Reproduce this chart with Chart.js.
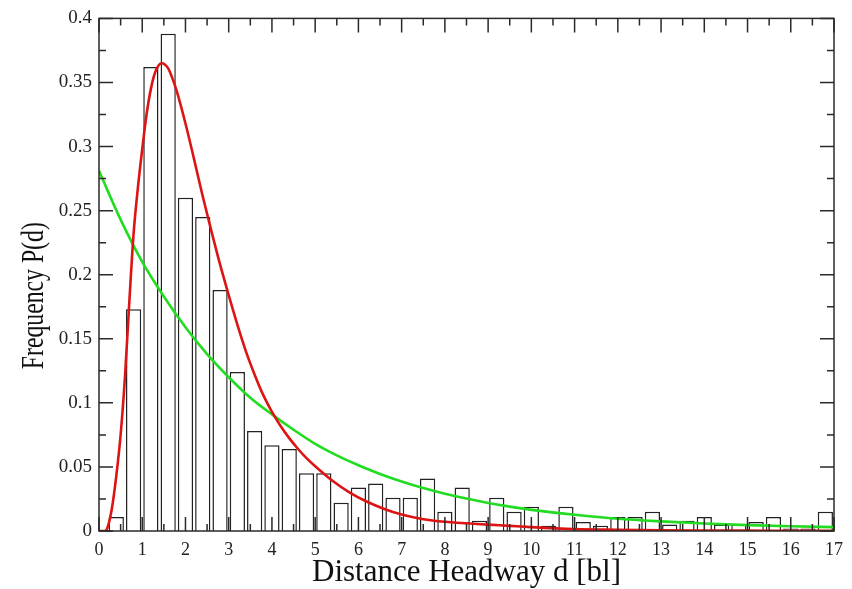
<!DOCTYPE html>
<html><head><meta charset="utf-8">
<script src="https://cdn.jsdelivr.net/npm/chart.js@4/dist/chart.umd.min.js"></script>
<style>html,body{margin:0;padding:0;background:#fff;}canvas{display:block;}</style>
</head><body>
<canvas id="c" width="852" height="589"></canvas>
<script>
// Histogram bins (centre of each bin, distance headway in body lengths)
const binCenters = [0.4, 0.8, 1.2, 1.6, 2.0, 2.4, 2.8, 3.2, 3.6, 4.0, 4.4, 4.8, 5.2, 5.6,
  6.0, 6.4, 6.8, 7.2, 7.6, 8.0, 8.4, 8.8, 9.2, 9.6, 10.0, 10.4, 10.8, 11.2, 11.6, 12.0,
  12.4, 12.8, 13.2, 13.6, 14.0, 14.4, 14.8, 15.2, 15.6, 16.0, 16.4, 16.8];
const binFreq = [0.011, 0.173, 0.362, 0.388, 0.260, 0.245, 0.188, 0.124, 0.078, 0.067,
  0.064, 0.045, 0.045, 0.022, 0.034, 0.037, 0.026, 0.026, 0.041, 0.015, 0.034, 0.008,
  0.026, 0.015, 0.019, 0.004, 0.019, 0.007, 0.004, 0.011, 0.011, 0.015, 0.005, 0.008,
  0.011, 0.005, 0.005, 0.007, 0.011, 0.002, 0.002, 0.015];

// Red fitted curve
const redX = [0, 0.15, 0.2, 0.3, 0.4, 0.5, 0.6, 0.7, 0.8, 0.9, 1.0, 1.1, 1.2, 1.3, 1.45,
  1.6, 1.7, 1.8, 2.0, 2.2, 2.4, 2.6, 2.8, 3.0, 3.2, 3.4, 3.6, 3.8, 4.0, 4.2, 4.4, 4.6, 4.8,
  5.0, 5.4, 5.8, 6.2, 6.6, 7.0, 7.5, 8.0, 8.5, 9.0, 9.5, 10, 11, 12, 13, 14, 15, 16, 17];
const redY = [0, 0, 0.003, 0.018, 0.043, 0.075, 0.12, 0.178, 0.232, 0.268, 0.298, 0.325,
  0.345, 0.358, 0.365, 0.361, 0.353, 0.343, 0.318, 0.290, 0.261, 0.234, 0.208, 0.184,
  0.161, 0.140, 0.122, 0.106, 0.093, 0.082, 0.0725, 0.0642, 0.0568, 0.0505, 0.0392, 0.0300,
  0.0228, 0.0172, 0.0128, 0.0092, 0.0072, 0.006, 0.005, 0.004, 0.003, 0.0015, 0.001, 0.0006,
  0.0004, 0.0003, 0.0002, 0.0001];

// Green fitted curve
const greenX = [0, 0.5, 1.0, 1.5, 2.0, 2.5, 3.0, 3.5, 4.0, 4.5, 5.0, 5.5, 6.0, 6.5, 7.0,
  7.5, 8.0, 8.5, 9.0, 9.5, 10, 11, 12, 13, 14, 15, 16, 17];
const greenY = [0.281, 0.243, 0.21, 0.183, 0.159, 0.138, 0.12, 0.104, 0.091, 0.079, 0.068,
  0.059, 0.0513, 0.0445, 0.0386, 0.0335, 0.0291, 0.0253, 0.0219, 0.019, 0.0165, 0.0127,
  0.0096, 0.0075, 0.0058, 0.0046, 0.0037, 0.003];

const xTickLabels = ['0','1','2','3','4','5','6','7','8','9','10','11','12','13','14','15','16','17'];
const yTickLabels = ['0','0.05','0.1','0.15','0.2','0.25','0.3','0.35','0.4'];
const xTitle = 'Distance Headway d [bl]';
const yTitle = 'Frequency P(d)';

const SERIF = "'Liberation Serif', 'Times New Roman', serif";
const AXIS = '#2a2a2a';

const frameTicks = {
  id: 'frameTicks',
  afterDraw(chart) {
    const {ctx, chartArea: a, scales: {x, y}} = chart;
    ctx.save();
    ctx.strokeStyle = AXIS;
    ctx.lineWidth = 1.5;
    ctx.strokeRect(a.left, a.top, a.right - a.left, a.bottom - a.top);
    ctx.beginPath();
    const xt = x.ticks.map(t => t.value);
    xt.forEach((v, i) => {
      const p = x.getPixelForValue(v);
      ctx.moveTo(p, a.bottom); ctx.lineTo(p, a.bottom - 14);
      ctx.moveTo(p, a.top); ctx.lineTo(p, a.top + 14);
      if (i < xt.length - 1) {
        const m = x.getPixelForValue((v + xt[i + 1]) / 2);
        ctx.moveTo(m, a.bottom); ctx.lineTo(m, a.bottom - 7);
        ctx.moveTo(m, a.top); ctx.lineTo(m, a.top + 7);
      }
    });
    const yt = y.ticks.map(t => t.value);
    yt.forEach((v, i) => {
      const p = y.getPixelForValue(v);
      ctx.moveTo(a.left, p); ctx.lineTo(a.left + 14, p);
      ctx.moveTo(a.right, p); ctx.lineTo(a.right - 14, p);
      if (i < yt.length - 1) {
        const m = y.getPixelForValue((v + yt[i + 1]) / 2);
        ctx.moveTo(a.left, m); ctx.lineTo(a.left + 7, m);
        ctx.moveTo(a.right, m); ctx.lineTo(a.right - 7, m);
      }
    });
    ctx.stroke();
    // rotated y-axis title
    ctx.font = '31px ' + SERIF;
    ctx.fillStyle = '#111';
    const w = ctx.measureText(yTitle).width;
    ctx.translate(43, (a.top + a.bottom) / 2 + 21);
    ctx.rotate(-Math.PI / 2);
    ctx.scale(147 / w, 1);
    ctx.textAlign = 'center';
    ctx.textBaseline = 'alphabetic';
    ctx.fillText(yTitle, 0, 0);
    ctx.restore();
  }
};

new Chart(document.getElementById('c'), {
  type: 'bar',
  data: {
    datasets: [
      {
        type: 'line', label: 'red', order: 1,
        data: redX.map((v, i) => ({x: v, y: redY[i]})),
        borderColor: '#dd1414', borderWidth: 2.6, pointRadius: 0,
        cubicInterpolationMode: 'monotone', fill: false
      },
      {
        type: 'line', label: 'green', order: 2,
        data: greenX.map((v, i) => ({x: v, y: greenY[i]})),
        borderColor: '#22dc22', borderWidth: 2.6, pointRadius: 0,
        cubicInterpolationMode: 'monotone', fill: false
      },
      {
        type: 'bar', label: 'hist', order: 3,
        data: binCenters.map((v, i) => ({x: v, y: binFreq[i]})),
        backgroundColor: '#ffffff', borderColor: '#222', borderWidth: 1.5,
        borderSkipped: 'bottom', barPercentage: 1.0, categoryPercentage: 0.88
      }
    ]
  },
  options: {
    responsive: false,
    animation: false,
    events: [],
    layout: {padding: {left: 0, top: 17, right: 18, bottom: 0}},
    plugins: {legend: {display: false}, tooltip: {enabled: false}},
    scales: {
      x: {
        type: 'linear', min: 0, max: 17, offset: false,
        grid: {display: false, drawTicks: false},
        border: {display: false},
        ticks: {
          stepSize: 1, autoSkip: false, maxRotation: 0, padding: 8,
          color: '#222', font: {family: SERIF, size: 18},
          callback: (v, i) => xTickLabels[i]
        },
        title: {
          display: true, text: xTitle, color: '#111',
          font: {family: SERIF, size: 31, lineHeight: 1.0},
          padding: {top: 0, bottom: 1}
        },
        afterFit: s => { s.height = 58; }
      },
      y: {
        type: 'linear', min: 0, max: 0.4,
        grid: {display: false, drawTicks: false},
        border: {display: false},
        ticks: {
          stepSize: 0.05, autoSkip: false, padding: 7,
          color: '#222', font: {family: SERIF, size: 19},
          callback: (v, i) => yTickLabels[i]
        },
        afterFit: s => { s.width = 99; }
      }
    }
  },
  plugins: [frameTicks]
});
</script>
</body></html>
